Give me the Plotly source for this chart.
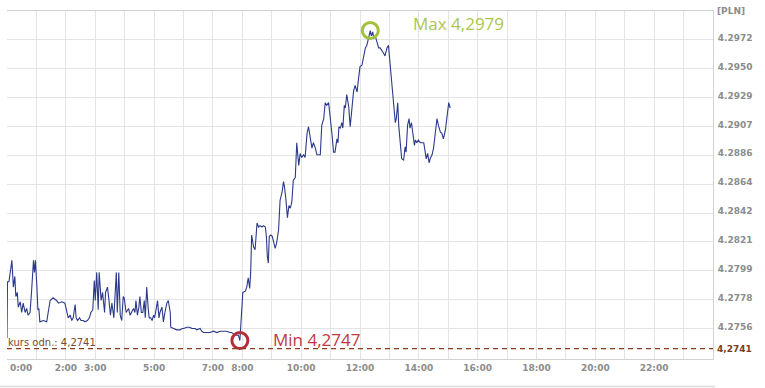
import plotly.graph_objects as go

# --- data -------------------------------------------------------------
minutes = [
    0, 1, 4, 10, 13, 16, 18, 21, 23, 27,
    30, 33, 37, 40, 43, 47, 50, 54, 56, 58,
    61, 63, 65, 67, 74, 81, 84, 88, 94, 101,
    105, 112, 118, 122, 125, 129, 132, 135, 139, 141,
    144, 148, 151, 156, 159, 164, 168, 171, 175, 178,
    180, 183, 186, 188, 192, 195, 199, 201, 205, 208,
    211, 214, 218, 221, 223, 225, 228, 231, 234, 237,
    239, 243, 248, 251, 254, 258, 261, 263, 266, 269,
    271, 274, 277, 280, 282, 285, 288, 290, 293, 296,
    299, 301, 304, 307, 310, 312, 316, 319, 322, 326,
    329, 333, 334, 339, 346, 353, 357, 360, 367, 373,
    377, 380, 384, 387, 394, 397, 401, 408, 414, 421,
    428, 435, 441, 448, 455, 458, 462, 467, 472, 475,
    481, 486, 489, 492, 495, 497, 499, 503, 506, 510,
    513, 516, 520, 523, 527, 529, 531, 533, 535, 538,
    541, 544, 547, 550, 554, 557, 561, 564, 566, 569,
    572, 575, 578, 581, 584, 588, 591, 595, 598, 601,
    605, 608, 612, 615, 618, 622, 625, 629, 632, 639,
    642, 646, 649, 652, 656, 659, 663, 666, 669, 673,
    675, 677, 680, 683, 685, 688, 690, 693, 697, 700,
    704, 707, 710, 714, 717, 720, 724, 727, 731, 734,
    737, 741, 743, 746, 748, 751, 755, 758, 761, 765,
    768, 771, 775, 778, 782, 785, 788, 792, 794, 797,
    799, 802, 805, 809, 812, 814, 817, 820, 822, 825,
    828, 831, 833, 836, 839, 843, 846, 850, 853, 855,
    858, 861, 863, 867, 870, 873, 877, 880, 884, 887,
    890, 894, 897, 899, 901, 904,
]
rates = [
    4.2749, 4.2791, 4.2791, 4.2807, 4.2787, 4.2795, 4.2780, 4.2783, 4.2772, 4.2776,
    4.2768, 4.2775, 4.2768, 4.2771, 4.2766, 4.2768, 4.2783, 4.2807, 4.2798, 4.2807,
    4.2787, 4.2770, 4.2771, 4.2761, 4.2762, 4.2761, 4.2768, 4.2777, 4.2779, 4.2777,
    4.2775, 4.2776, 4.2775, 4.2768, 4.2764, 4.2766, 4.2762, 4.2764, 4.2774, 4.2764,
    4.2762, 4.2764, 4.2762, 4.2762, 4.2761, 4.2762, 4.2764, 4.2768, 4.2770, 4.2792,
    4.2777, 4.2798, 4.2770, 4.2798, 4.2777, 4.2783, 4.2768, 4.2783, 4.2787, 4.2777,
    4.2766, 4.2775, 4.2764, 4.2785, 4.2798, 4.2768, 4.2798, 4.2766, 4.2762, 4.2780,
    4.2779, 4.2768, 4.2771, 4.2766, 4.2768, 4.2771, 4.2768, 4.2777, 4.2766, 4.2772,
    4.2780, 4.2768, 4.2768, 4.2777, 4.2764, 4.2787, 4.2771, 4.2764, 4.2764, 4.2762,
    4.2766, 4.2764, 4.2770, 4.2777, 4.2764, 4.2768, 4.2772, 4.2761, 4.2768, 4.2775,
    4.2777, 4.2768, 4.2757, 4.2756, 4.2755, 4.2755, 4.2756, 4.2756, 4.2757, 4.2757,
    4.2756, 4.2756, 4.2756, 4.2755, 4.2756, 4.2754, 4.2753, 4.2753, 4.2753, 4.2754,
    4.2753, 4.2754, 4.2754, 4.2754, 4.2753, 4.2753, 4.2752, 4.2751, 4.2751, 4.2747,
    4.2783, 4.2784, 4.2787, 4.2794, 4.2786, 4.2798, 4.2826, 4.2817, 4.2815, 4.2835,
    4.2832, 4.2833, 4.2832, 4.2833, 4.2832, 4.2825, 4.2810, 4.2805, 4.2825, 4.2826,
    4.2825, 4.2819, 4.2816, 4.2820, 4.2830, 4.2852, 4.2858, 4.2866, 4.2862, 4.2852,
    4.2839, 4.2848, 4.2846, 4.2851, 4.2867, 4.2869, 4.2895, 4.2878, 4.2887, 4.2884,
    4.2886, 4.2884, 4.2902, 4.2907, 4.2899, 4.2891, 4.2895, 4.2891, 4.2886, 4.2886,
    4.2908, 4.2913, 4.2925, 4.2923, 4.2925, 4.2916, 4.2901, 4.2888, 4.2888, 4.2898,
    4.2895, 4.2907, 4.2906, 4.2910, 4.2906, 4.2923, 4.2921, 4.2931, 4.2922, 4.2907,
    4.2921, 4.2934, 4.2938, 4.2933, 4.2943, 4.2952, 4.2953, 4.2960, 4.2966, 4.2968,
    4.2974, 4.2979, 4.2975, 4.2978, 4.2973, 4.2975, 4.2970, 4.2966, 4.2966, 4.2963,
    4.2962, 4.2960, 4.2966, 4.2968, 4.2953, 4.2940, 4.2925, 4.2910, 4.2913, 4.2925,
    4.2908, 4.2893, 4.2883, 4.2882, 4.2892, 4.2888, 4.2908, 4.2913, 4.2906, 4.2910,
    4.2901, 4.2893, 4.2897, 4.2895, 4.2897, 4.2895, 4.2895, 4.2895, 4.2888, 4.2883,
    4.2887, 4.2880, 4.2883, 4.2886, 4.2891, 4.2901, 4.2913, 4.2908, 4.2903, 4.2902,
    4.2898, 4.2904, 4.2913, 4.2918, 4.2925, 4.2921,
]
reference_rate = 4.2741
y_tick_values = [4.2756, 4.27776, 4.27992, 4.28208, 4.28424, 4.2864,
                 4.28856, 4.29072, 4.29288, 4.29504, 4.2972]
y_tick_labels = ["4.2756", "4.2778", "4.2799", "4.2821", "4.2842", "4.2864",
                 "4.2886", "4.2907", "4.2929", "4.2950", "4.2972"]
x_tick_hours = list(range(0, 25))
x_tick_labels = {2: "2:00", 3: "3:00", 5: "5:00", 7: "7:00", 8: "8:00",
                 10: "10:00", 12: "12:00", 14: "14:00", 16: "16:00",
                 18: "18:00", 20: "20:00", 22: "22:00"}
y_range = [4.27332, 4.29936]

# --- figure -----------------------------------------------------------
hours = [m / 60 for m in minutes]
i_min = min(range(len(rates)), key=lambda i: rates[i])
i_max = max(range(len(rates)), key=lambda i: rates[i])

def fmt(v):
    return f"{v:.4f}".replace(".", ",")

LINE = "#2b3a8a"
MAXC = "#a3c13b"
MINC = "#b52d3a"
BROWN = "#7a3d1c"
GRID = "#e4e4e4"
AX = "#d2d2d2"
TICKFONT = dict(family="DejaVu Sans", size=9, color="#8c8c8c")

fig = go.Figure()
fig.add_trace(go.Scatter(x=hours, y=rates, mode="lines",
                         line=dict(color=LINE, width=1.1), hoverinfo="skip"))
fig.add_trace(go.Scatter(x=[hours[i_max]], y=[rates[i_max]], mode="markers",
                         marker=dict(symbol="circle-open", size=16, color=MAXC,
                                     line=dict(width=3, color=MAXC))))
fig.add_trace(go.Scatter(x=[hours[i_min]], y=[rates[i_min]], mode="markers",
                         marker=dict(symbol="circle-open", size=16, color=MINC,
                                     line=dict(width=3, color=MINC))))

fig.add_shape(type="line", xref="paper", yref="y", x0=0, x1=1,
              y0=reference_rate, y1=reference_rate,
              line=dict(color="#8b3e1e", width=1.3, dash="5px,4px"))
# separator line at very bottom
fig.add_shape(type="line", xref="paper", yref="paper", x0=-0.01, x1=1.003,
              y0=-0.079, y1=-0.079, line=dict(color="#dcdcdc", width=1.5))

ann = []
ann.append(dict(x=hours[i_max], y=rates[i_max], xref="x", yref="y",
                text=f"Max {fmt(rates[i_max])}", showarrow=False,
                xanchor="left", yanchor="middle", xshift=41, yshift=7,
                font=dict(family="Open Sans", size=17, color="#adc54f")))
ann.append(dict(x=hours[i_min], y=rates[i_min], xref="x", yref="y",
                text=f"Min {fmt(rates[i_min])}", showarrow=False,
                xanchor="left", yanchor="middle", xshift=31, yshift=1,
                font=dict(family="Open Sans", size=17, color="#c0393f")))
ann.append(dict(x=0, y=reference_rate, xref="x", yref="y",
                text=f"kurs odn.: {fmt(reference_rate)}", showarrow=False,
                xanchor="left", yanchor="bottom", xshift=-1, yshift=-1,
                font=dict(family="DejaVu Sans", size=10, color="#7a4a2a")))
ann.append(dict(x=1, y=reference_rate, xref="paper", yref="y",
                text=f"<b>{fmt(reference_rate)}</b>", showarrow=False,
                xanchor="left", yanchor="middle", xshift=2, yshift=0,
                font=dict(family="DejaVu Sans", size=9, color=BROWN)))
ann.append(dict(x=1, y=1, xref="paper", yref="paper",
                text="<b>[PLN]</b>", showarrow=False,
                xanchor="left", yanchor="middle", xshift=2, yshift=0,
                font=TICKFONT))
ann.append(dict(x=0, y=0, xref="x", yref="paper",
                text="<b>0:00</b>", showarrow=False,
                xanchor="left", yanchor="middle", xshift=1, yshift=-9,
                font=TICKFONT))

fig.update_layout(
    width=765, height=388,
    margin=dict(l=7, r=52, t=11, b=29),
    paper_bgcolor="white", plot_bgcolor="white",
    showlegend=False,
    annotations=ann,
    xaxis=dict(range=[0, 24], tickmode="array", tickvals=x_tick_hours,
               ticktext=[f"<b>{x_tick_labels[h]}</b>" if h in x_tick_labels else "" for h in x_tick_hours],
               showgrid=True, gridcolor=GRID, gridwidth=1, zeroline=False,
               showline=True, linecolor=AX, linewidth=1, mirror=True,
               ticks="", tickfont=TICKFONT, fixedrange=True),
    yaxis=dict(range=y_range, side="right", tickmode="array",
               tickvals=y_tick_values,
               ticktext=[f"<b>{t}</b>" for t in y_tick_labels],
               showgrid=True, gridcolor=GRID, gridwidth=1, zeroline=False,
               showline=True, linecolor=AX, linewidth=1, mirror=False,
               ticks="", tickfont=TICKFONT, ticklabelstandoff=2,
               ticklabelshift=-2, fixedrange=True),
)

fig.write_html("out.html")
